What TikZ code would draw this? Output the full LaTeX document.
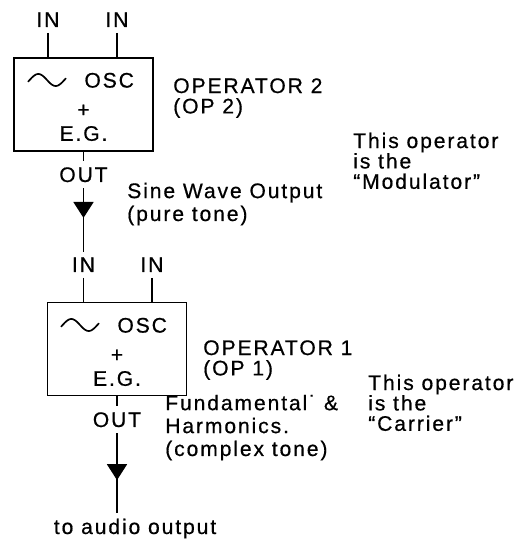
\documentclass[tikz,border=0pt]{standalone}
\usepackage{fontspec}
\setmainfont{Liberation Sans}[LetterSpace=9, FakeBold=0.6]
\usetikzlibrary{arrows.meta, decorations.markings}
\newcommand{\oplead}[1]{\fontsize{15pt}{#1}\selectfont}

\tikzset{
  opbox/.style={draw, line width=1pt, minimum width=3.475cm, minimum height=2.325cm, inner sep=0pt},
  pinlbl/.style={font=\oplead{15pt}, inner sep=4pt},
  txt/.style={font=\oplead{#1}, inner sep=0pt, align=left, anchor=base west},
  wire/.style={line width=1.3pt},
  flow/.style={wire, postaction={decorate},
    decoration={markings, mark=at position #1 with {\arrow{Triangle[width=0.5cm,length=0.4cm]}}}}
}

\begin{document}
\begin{tikzpicture}[x=1cm, y=1cm]
\useasboundingbox (0,0) rectangle (12.875,13.5);

% operator 2 (modulator)
\node[opbox] (op2) at (2.0875,10.8875) {};
\draw[line width=1.2pt] plot[domain=-0.3:6.58, samples=40] ({0.7+(\x+0.3)*0.95/6.88}, {11.5+0.15*sin(\x r)});
\node[pinlbl, anchor=base] (osc2) at (2.73,11.31) {OSC};
\node[pinlbl] (plus2) at (2.0875,10.73) {+};
\node[pinlbl, anchor=base] (eg2) at (2.0875,9.98) {E.G.};
\node[pinlbl, anchor=base] (in2a) at (1.2,12.825) {IN};
\node[pinlbl, anchor=base] (in2b) at (2.925,12.825) {IN};
\node[pinlbl, anchor=base] (out2) at (2.0875,8.95) {OUT};

% operator 1 (carrier)
\node[opbox] (op1) at (2.925,4.775) {};
\draw[line width=1.2pt] plot[domain=-0.3:6.58, samples=40] ({1.525+(\x+0.3)*0.95/6.88}, {5.375+0.15*sin(\x r)});
\node[pinlbl, anchor=base] (osc1) at (3.555,5.185) {OSC};
\node[pinlbl] (plus1) at (2.925,4.605) {+};
\node[pinlbl, anchor=base] (eg1) at (2.925,3.855) {E.G.};
\node[pinlbl, anchor=base] (in1a) at (2.0875,6.7) {IN};
\node[pinlbl, anchor=base] (in1b) at (3.8,6.7) {IN};
\node[pinlbl, anchor=base] (out1) at (2.925,2.825) {OUT};
\node[pinlbl, anchor=base west] (audio) at (1.2,0.15) {to audio output};

% connectors
\draw[wire] (in2a) -- (in2a |- op2.north);
\draw[wire] (in2b) -- (in2b |- op2.north);
\draw[wire] (op2.south) -- (out2.north);
\draw[flow=0.47] (out2.south) -- (in1a.north);
\draw[wire] (in1a) -- (in1a |- op1.north);
\draw[wire] (in1b) -- (in1b |- op1.north);
\draw[wire] (op1.south) -- (out1.north);
\draw[flow=0.59] (out1.south) -- (out1.south |- audio.north);

% side notes (placed by last baseline)
\node[txt=14.5pt] (name2) at (4.325,10.665) {OPERATOR 2\\(OP 2)};
\node[txt=16.3pt] (sine) at (3.175,7.975) {Sine Wave Output\\(pure tone)};
\node[txt=14.5pt] (modnote) at (8.825,8.78) {This operator\\is the\\“Modulator”};
\node[txt=14.5pt] (name1) at (5.075,4.115) {OPERATOR 1\\(OP 1)};
\node[txt=14.5pt] (carnote) at (9.2,2.73) {This operator\\is the\\“Carrier”};
\node[txt=16.3pt] (harm) at (4.125,2.1) {Fundamental˙ \&\\Harmonics.\\(complex tone)};
\end{tikzpicture}
\end{document}
